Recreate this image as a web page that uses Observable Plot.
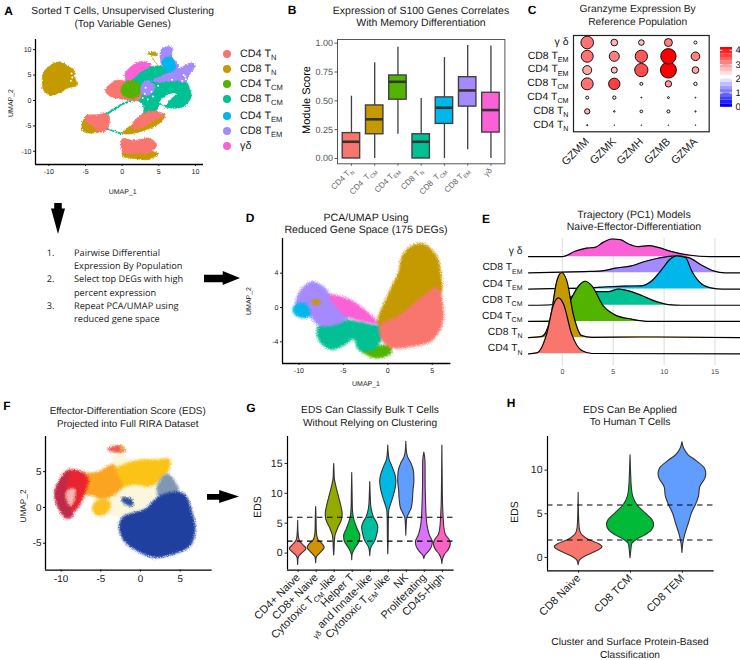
<!DOCTYPE html>
<html><head><meta charset="utf-8">
<script src="https://cdn.jsdelivr.net/npm/d3@7"></script>
<script src="https://cdn.jsdelivr.net/npm/@observablehq/plot@0.6"></script>
<style>
html,body{margin:0;padding:0;background:#fff}
#root{position:relative;width:740px;height:660px;overflow:hidden;font-family:"Liberation Sans",Arial,sans-serif;color:#1a1a1a;text-rendering:geometricPrecision}
#root svg text{text-rendering:geometricPrecision}
.t{position:absolute;white-space:nowrap;line-height:1}
.c{transform:translate(-50%,-50%)}
.r{transform:translate(-50%,-50%) rotate(-90deg)}
sub{font-size:70%;vertical-align:baseline;position:relative;top:.35em}
.arrow{position:absolute;background:#000}
</style></head><body>
<svg width="0" height="0" style="position:absolute"><defs>
<filter id="rough" x="-10%" y="-10%" width="120%" height="120%" color-interpolation-filters="sRGB">
<feTurbulence type="fractalNoise" baseFrequency="0.7" numOctaves="2" seed="4" result="n"/>
<feDisplacementMap in="SourceGraphic" in2="n" scale="3.2" xChannelSelector="R" yChannelSelector="G"/>
</filter>
<filter id="soft" x="-10%" y="-10%" width="120%" height="120%" color-interpolation-filters="sRGB">
<feGaussianBlur stdDeviation="1.1" result="b"/>
<feTurbulence type="fractalNoise" baseFrequency="0.8" numOctaves="2" seed="9" result="n"/>
<feDisplacementMap in="b" in2="n" scale="3.5" xChannelSelector="R" yChannelSelector="G"/>
</filter>
</defs></svg>
<div id="root"></div>
<script>
// ---------- palette
const hue7 = ["#F8766D","#C49A00","#53B400","#00C094","#00B6EB","#A58AFF","#FB61D7"];
const hue9 = ["#F8766D","#D39200","#93AA00","#00BA38","#00C19F","#00B9E3","#619CFF","#DB72FB","#FF61C3"];
const hue3 = ["#F8766D","#00BA38","#619CFF"];
const [cSalmon,cGold,cGreen,cTeal,cBlue,cPurple,cPink] = hue7;

// ---------- Panel A: UMAP outlines (UMAP units)
const aIsland=[[-10.9,3.9],[-10.7,5.6],[-9.8,6.9],[-8.6,7.6],[-7.5,6.9],[-6.6,5.9],[-6.4,4.3],[-6.1,3],[-7.3,2.5],[-8.4,1.6],[-9.8,1],[-10.7,2]];
const aLeftGold=[[-5.5,-5.3],[-4.9,-3],[-3.9,-3.9],[-2.5,-5.9],[-3.9,-6.4],[-5.2,-6.2]];
const aLeftSalmon=[[-4.9,-3],[-3.4,-2.8],[-2,-2.6],[-1.7,-3.6],[-2.1,-5.8],[-3.2,-6.2],[-4.1,-4.9],[-5,-4.1]];
const aRightGold=[[0,-6.4],[1.6,-4.6],[4.8,-2.6],[5.9,-2.8],[5,-4.6],[3,-5.9],[0.9,-6.6]];
const aRightSalmon=[[1.4,-4.6],[3,-2.5],[4.8,-2.1],[5.8,-3],[4.5,-3.8],[3,-5.1],[1.6,-5.6]];
const aBottomGold=[[0.1,-9.9],[3.6,-9.9],[4.9,-10.5],[3.6,-11.6],[1.6,-11.4],[0.1,-11]];
const aBottomSalmon=[[0,-7.6],[1.6,-7.9],[3.6,-7.4],[4.7,-8.7],[3.9,-10.2],[1.8,-10.4],[0.1,-10.2]];
const aBridge1=[[-2,-2.6],[0,-0.7],[3,0.7]];
const aBridge2=[[-2,-5.6],[0,-6.6]];
const aBridge3=[[3.9,8.9],[4.8,7],[5.5,5.8]];
const aTeal=[[0.5,4],[2.5,6],[4.8,6.8],[7.5,5.8],[8.9,3.4],[9.4,0.7],[8.2,-1.3],[6.1,-1.4],[5.2,-0.8],[4.7,-2],[4.5,-3],[3,-3],[2.9,-1],[1.5,0.5],[0.5,2]];
const aHole=[[5.2,-0.3],[6.1,1],[7.3,1.3],[6.4,0],[5.9,-1]];
const aSalmonMain=[[-2.3,2],[-0.9,3.9],[0.2,3.9],[2.4,2.4],[2.4,0.2],[-0.2,0.3],[-1.8,1]];
const aGreen=[[-0.1,2.6],[0.9,3.9],[2.3,3.3],[2.3,1],[0.9,0.5],[0,1.3]];
const aPurpleRight=[[4.1,3.9],[6.1,5.3],[8.2,6.6],[9.5,7.4],[10,6.9],[9.3,5.3],[8.6,3.6],[7.5,3.9],[5.2,3.6]];
const aPurpleTop=[[5.3,9.9],[5.9,10.5],[6.8,10.5],[6.8,8.6],[7.7,6.9],[7.3,5.6],[5.7,6.3],[5.2,8.2]];
const aBlue=[[5.5,7.9],[6.6,8.6],[7.3,6.6],[6.6,5.6],[5.7,6.3]];
const aPink=[[0.3,4.9],[1.4,6.9],[3.2,7.7],[3.9,6.9],[2.5,5.6],[0.9,3.9]];
const aPurpleSmall=[[2.7,3.3],[3.6,3.9],[4.5,2.6],[3.6,1],[2.7,1.3]];
const aGoldTiny=[[3.5,9.3],[4.5,9.5],[4.8,8.9],[3.9,8.9]];
const aSpecks=[[8.4,5],[8.7,4.2],[8.2,3.9],[8.6,4.7],[4,1.7],[3.2,2.5],[6.8,4.1],[3.5,0.2],[2.8,0.5],[-6.8,4.5],[-7,3.9],[-6.9,5.3],[3.1,1.3],[4.2,0.8],[1.2,-7.2],[4.9,2.9]];
const legendA=["CD4 T<sub>N</sub>","CD8 T<sub>N</sub>","CD4 T<sub>CM</sub>","CD8 T<sub>CM</sub>","CD4 T<sub>EM</sub>","CD8 T<sub>EM</sub>","γδ"];
const legendATop=[54.3,69.3,84.3,99.3,116,131,145.7];

// ---------- Panel B: boxplot summaries
const bLabels=["CD4 T~N~","CD4  T~CM~","CD4 T~EM~","CD8 T~N~","CD8  T~CM~","CD8 T~EM~","γδ"];
const bLow=[0,0,0.21,0,0,0.075,0];
const bQ1=[0,0.21,0.51,0,0.30,0.45,0.225];
const bMed=[0.145,0.34,0.665,0.145,0.44,0.59,0.42];
const bQ3=[0.22,0.46,0.72,0.21,0.53,0.705,0.57];
const bHigh=[0.54,0.83,0.965,0.52,0.875,0.98,0.975];

// ---------- Panel C: dot plot
const cGenes=["GZMM","GZMK","GZMH","GZMB","GZMA"];
const cRows=["CD4 T~N~","CD8 T~N~","CD4 T~CM~","CD8 T~CM~","CD4 T~EM~","CD8 T~EM~","γ δ"];
const cPct=[[8,4,4,4,4],[33,10,17,19,8],[19,21,6,12,6],[75,71,19,40,21],[56,38,83,100,42],[75,63,77,96,54],[79,42,35,50,19]];
const cExpr=[[2,2,2,2,2],[2.6,2,2,2.2,2],[2,2.2,2,2,2],[3.1,3.5,2.2,2.8,2.1],[2.7,2.5,3.4,4,2.7],[3.1,3,3.3,4,3],[3.1,2.6,2.5,3,2]];
const cBarStops=[0,0.25,0.5,0.75,1,1.25,1.5,1.75,2,2.25,2.5,2.75,3,3.25,3.5,3.75,4,4.2];
const cBarTicks=[0,1,2,3,4];

// ---------- Panel D outlines
const dGold=[[-1.2,-1.9],[0.1,1.7],[1.2,4.1],[1.6,6],[2.7,7.2],[4.1,7.4],[5.6,5.8],[6,3.7],[6,1.7],[4.5,0.6],[1.2,-1.4],[-0.7,-2.5]];
const dSalmon=[[-0.85,-2.1],[1.2,-1],[3.8,1.2],[5.6,2.3],[6.2,0.2],[6.1,-2.1],[4.9,-3.9],[3,-4.5],[0.4,-4.7],[-0.7,-3.7]];
const dGreen=[[-3.1,-4.9],[-1.4,-4.5],[0.3,-4.5],[0.3,-5.4],[-1.4,-5.9],[-2.7,-5.3]];
const dTeal=[[-7.9,-2.3],[-5.5,-1.4],[-2.1,-1.9],[-0.85,-2.3],[-0.7,-3.7],[-1.6,-4.9],[-3.3,-4.9],[-3.8,-3.7],[-5.1,-4.5],[-6.4,-4.9],[-7.7,-3.9]];
const dPurple=[[-9.9,1.9],[-8.6,3],[-7.3,2.5],[-6,1],[-4,-0.2],[-5.1,-1.7],[-7.7,-2.1],[-8.8,-1],[-10.3,0.2]];
const dBlue=[[-10.7,-0.2],[-10.3,0.4],[-9.2,0.4],[-8.8,-1],[-9.7,-1.2],[-10.5,-0.8]];
const dPink=[[-6.6,1.4],[-4.4,1],[-2.9,0],[-1.6,-1.2],[-1,-1.9],[-2.5,-1.7],[-4.7,-1],[-5.9,0.2]];
const dGoldSmall=[[-8.6,0.8],[-7.7,0.9],[-7.6,0.4],[-8.4,0.4]];

// ---------- Panel E ridges: [PC1, density height in row units]
const eRidges=[
 {row:6,label:"γ δ",color:cPink,pts:[[-3.34,0],[0,0],[1.25,.33],[2.4,.53],[3.2,.57],[4,.88],[4.85,1.09],[5.7,1.05],[6.5,.78],[7.5,.62],[8.5,.68],[9.4,.57],[10.75,.31],[12.4,.1],[14.4,0],[17.5,0]]},
 {row:5,label:"CD8 T~EM~",color:cPurple,pts:[[-3.34,0],[0,.04],[2.2,.08],[3.9,.12],[5.2,.29],[6.8,.43],[8.1,.7],[9.4,.9],[11.1,1.05],[12.4,.94],[13.7,.47],[14.85,.12],[16,0],[17.5,0]]},
 {row:4,label:"CD4 T~EM~",color:cBlue,pts:[[-3.34,0],[0,.04],[2.2,.06],[4.5,.14],[6.2,.18],[7.8,.2],[8.8,.51],[9.8,1.23],[10.6,1.85],[11.25,2.05],[12.1,1.95],[12.7,1.13],[13.7,.31],[14.7,.06],[15.7,0],[17.5,0]]},
 {row:3,label:"CD8 T~CM~",color:cTeal,pts:[[-3.34,0],[-2.4,0],[-.4,.06],[.75,.49],[1.9,.8],[3.2,.84],[4.5,.84],[5.5,1],[6.8,.84],[7.8,.6],[9.1,.25],[10.4,.04],[11.7,0],[17.5,0]]},
 {row:2,label:"CD4 T~CM~",color:cGreen,pts:[[-3.34,0],[-.4,.04],[.75,1.27],[1.6,2.2],[2.25,2.48],[2.9,2.2],[4,.97],[5.2,.39],[6.8,.14],[8.5,0],[17.5,0]]},
 {row:1,label:"CD8 T~N~",color:cGold,pts:[[-3.34,0],[-2,.08],[-1.2,1.15],[-.55,3.5],[-.07,4.02],[.43,3.5],[1.1,1.35],[1.9,.12],[2.9,.02],[7.8,.04],[17.5,0]]},
 {row:0,label:"CD4 T~N~",color:cSalmon,pts:[[-3.34,0],[-2.5,.06],[-1.55,1.23],[-.9,3],[-.4,3.45],[.1,3.08],[.9,1.23],[1.9,.2],[2.9,.02],[17.5,0]]}
];
const eTicks=[0,5,10,15];

// ---------- Panel F outlines
const fHalo=[[-6,0],[-4,5],[-2.9,7.9],[-1,6.5],[3.4,6.2],[3.2,4],[0.8,0.4],[-2.1,-1.2]];
const fBlueBig=[[.6,-.2],[2.1,1.4],[3.8,2.1],[5.5,1.9],[6.5,-.7],[6.9,-3],[6.3,-5.3],[4.2,-6.5],[1.7,-7],[0,-6.3],[-1.9,-4.9],[-2.7,-3],[-2.3,-1.4],[-.8,-.7]];
const fBlueUp=[[3.4,4.7],[4.8,2.1],[2.5,1.2],[2.1,3]];
const fBlueSmall=[[-2.3,1.4],[-1.1,1.1],[-1,.2],[-1.8,.4],[-2.3,.9]];
const fYellow=[[-4,4.6],[-.8,6.5],[2.1,6.7],[3.6,6.8],[3.8,6],[3.2,4.7],[1.3,3],[-.8,3.2],[-3,2.8]];
const fOrange=[[-7.6,4.6],[-5.5,4.9],[-3.4,6],[-2.9,4.6],[-2.3,3],[-3.6,1.6],[-5,1.2],[-5.9,1.6],[-7.6,2.1]];
const fYellowLow=[[-6.1,0],[-5,1.2],[-3.8,.7],[-4.2,-.7],[-5.5,-1.1]];
const fRed=[[-9.2,5.2],[-7.6,5.1],[-6.6,4],[-7,2.1],[-8,-.2],[-9.2,-.8],[-10.7,1.6],[-10.1,4]];
const fCrimson=[[-10.8,2.1],[-10.1,3.8],[-8.9,5],[-9.3,3.5],[-9.4,1.6],[-8.5,-1.2],[-9.4,-1.5],[-10.5,.2]];
const fPale=[[-9.3,2.3],[-8.3,2.6],[-8.3,1.2],[-8.8,.2],[-9.3,1]];
const fTopRed=[[-4.2,8.1],[-2.7,8.7],[-1.9,7.9],[-3.2,7.7]];
const fTopYellow=[[-2.5,8.7],[-2,8.1],[-2.5,7.9]];

// ---------- Panel G violins: [EDS, half width in category units]
const gLabels=["CD4+ Naive","CD8+ Naive","Cytotoxic T~CM~-like","Helper T","~γδ~ and Innate-like","Cytotoxic T~EM~-like","NK","Proliferating","CD45-High"];
const gViolins=[
 [[-2,0],[-1,.02],[-.5,.08],[0,.25],[.7,.46],[1.3,.3],[2,.1],[2.5,.05],[3.5,.02],[5.4,0]],
 [[-1.7,0],[-.8,.03],[-.2,.18],[.9,.47],[1.5,.35],[2.2,.13],[2.7,.07],[4,.03],[6,.02],[7.7,0]],
 [[-.4,0],[.5,.02],[2,.04],[3,.08],[4,.2],[5.5,.43],[6.5,.47],[7.5,.42],[9,.3],[11,.13],[12.5,.03],[13.5,.02],[14.9,0]],
 [[-1.2,0],[-.3,.02],[.2,.08],[.8,.18],[2,.42],[2.8,.45],[4,.3],[5.5,.12],[6.8,.05],[8,.03],[10,.02],[13.4,0]],
 [[-.5,0],[.5,.03],[1,.08],[2,.28],[3,.38],[4.3,.45],[5,.38],[6,.2],[7,.1],[8,.05],[10,.02],[11.9,0]],
 [[-.2,0],[2,.02],[5,.03],[7,.05],[8,.14],[9.5,.3],[11,.42],[12,.45],[13,.4],[14.5,.22],[15.5,.08],[16.5,.03],[18,0]],
 [[2.9,0],[4.5,.02],[5.8,.05],[6.5,.15],[7.5,.3],[9,.37],[10.5,.4],[12,.45],[13.5,.43],[15,.28],[16,.1],[17,.03],[18.6,0]],
 [[-1,0],[-.5,.05],[.2,.25],[1,.42],[1.8,.47],[3,.3],[4.5,.18],[6,.13],[8,.1],[10,.08],[12,.07],[14,.07],[15.5,.06],[16.8,0]],
 [[-1.8,0],[-1,.04],[-.3,.14],[.5,.35],[1.5,.47],[2.2,.4],[3,.2],[4,.12],[6,.07],[8,.04],[10,.025],[13,.015],[18,0]]
];
const edsCuts=[2,6];

// ---------- Panel H violins
const hLabels=["CD8 Naive","CD8 TCM","CD8 TEM"];
const hViolins=[
 [[-.9,0],[-.4,.02],[0,.1],[.5,.28],[1,.44],[1.2,.46],[1.5,.4],[2,.2],[2.5,.08],[3,.03],[4,.012],[7.4,0]],
 [[-.1,0],[.8,.015],[1.5,.03],[2,.12],[2.5,.28],[3,.4],[3.7,.455],[4.3,.42],[5,.3],[6,.13],[7,.05],[8,.025],[9.5,.012],[11.7,0]],
 [[.5,0],[1.5,.015],[2.5,.05],[4,.13],[5,.18],[6,.26],[7,.32],[8,.34],[9,.44],[9.5,.46],[10.2,.43],[11,.28],[11.7,.12],[12.5,.03],[13.2,0]]
];

// ---------- helpers
const root=document.getElementById("root");
const FONT='"Liberation Sans",Arial,sans-serif';
function subs(svg){
  svg.querySelectorAll("text").forEach(t=>{
    if(t.children.length||!t.textContent.includes("~"))return;
    const parts=t.textContent.split("~");t.textContent="";
    parts.forEach((p,i)=>{
      if(!p)return;
      const s=document.createElementNS("http://www.w3.org/2000/svg","tspan");
      s.textContent=p;
      if(i%2){s.setAttribute("font-size","68%");s.setAttribute("dy",".45em");}
      else if(i>0){s.setAttribute("dy","-.306em");}
      t.appendChild(s);
    });
  });
}
function panel({l,t,r,b,x,y,marks,pad=[20,20,50,50],font=8,extra={},filter}){
  const [pt,pr,pb,pl]=pad;
  const svg=Plot.plot({width:r-l+pl+pr,height:b-t+pt+pb,marginTop:pt,marginRight:pr,marginBottom:pb,marginLeft:pl,
    x:{axis:null,label:null,...x},y:{axis:null,label:null,...y},
    style:{background:"transparent",overflow:"visible",maxWidth:"none",fontFamily:FONT,fontSize:font+"px",position:"absolute",left:(l-pl)+"px",top:(t-pt)+"px"},
    marks,...extra});
  subs(svg);
  if(filter) svg.querySelectorAll('g[aria-label="line"]').forEach(g=>g.setAttribute("filter",`url(#${filter})`));
  root.appendChild(svg);
  return svg;
}
function txt(s,x,y,size,opts={}){
  const d=document.createElement("div");d.className="t "+(opts.cls||"c");
  d.style.left=x+"px";d.style.top=y+"px";d.style.fontSize=size+"px";
  if(opts.color)d.style.color=opts.color;
  if(opts.weight)d.style.fontWeight=opts.weight;
  if(opts.font)d.style.fontFamily=opts.font;
  d.innerHTML=s;root.appendChild(d);
}
const blob=(pts,color,opts={})=>Plot.line(pts,{x:d=>d[0],y:d=>d[1],fill:color,stroke:color,strokeWidth:.6,curve:"catmull-rom-closed",...opts});
const path=(pts,color,w=1.6)=>Plot.line(pts,{x:d=>d[0],y:d=>d[1],stroke:color,strokeWidth:w});
const umapAxes=(xt,yt,fs,dom,col="#222")=>[
  Plot.axisX({ticks:xt,tickFormat:String,tickSize:2,tickPadding:2.5,fontSize:fs,color:col}),
  Plot.axisY({ticks:yt,tickFormat:String,tickSize:2,tickPadding:2,fontSize:fs,color:col}),
  Plot.ruleX([dom[0]],{stroke:"#000",strokeWidth:1.3}),
  Plot.ruleY([dom[1]],{stroke:"#000",strokeWidth:1.3})
];

// ---------- A
const axA=[-11.82,11.1], ayA=[-12.6,12.0];
panel({l:35,t:39,r:203,b:164,x:{domain:axA},y:{domain:ayA},filter:"rough",marks:[
  blob(aIsland,cGold),blob(aLeftGold,cGold),blob(aLeftSalmon,cSalmon),blob(aRightGold,cGold),
  blob(aBottomGold,cGold),blob(aBottomSalmon,cSalmon),
  path(aBridge1,cTeal,2),path(aBridge2,cTeal,1.6),path(aBridge3,cGold,.8),
  blob(aTeal,cTeal),blob(aRightSalmon,cSalmon),blob(aHole,"#fff"),blob(aSalmonMain,cSalmon),blob(aGreen,cGreen),
  blob(aPurpleRight,cPurple),blob(aPurpleTop,cPurple),blob(aBlue,cBlue),blob(aPink,cPink),blob(aPurpleSmall,cPurple),blob(aGoldTiny,cGold),
  Plot.dot(aSpecks,{x:d=>d[0],y:d=>d[1],r:1,fill:"#fff"}),
  ...umapAxes([-10,-5,0,5,10],[-10,-5,0,5,10],7,[axA[0],ayA[0]])
]});
txt("Sorted T Cells, Unsupervised Clustering",122.7,12.3,10.3);
txt("(Top Variable Genes)",122.7,24.5,10.3);
txt("UMAP_1",122.7,191.7,7);
txt("UMAP_2",11,103,7,{cls:"r"});
legendA.forEach((s,i)=>{
  const d=document.createElement("div");d.style.cssText=`position:absolute;left:222.7px;top:${legendATop[i]-4}px;width:8px;height:8px;border-radius:50%;background:${hue7[i]}`;root.appendChild(d);
  txt(s,240,legendATop[i],10.8,{cls:"",color:"#1a1a1a"});
  root.lastChild.style.transform="translateY(-50%)";
});

// ---------- B
const idx7=d3.range(7);
panel({l:337.3,t:39,r:504.7,b:163.3,x:{domain:[-0.6,6.6]},y:{domain:[-0.046,1.032]},marks:[
  Plot.ruleX(idx7,{x:i=>i,y1:i=>bLow[i],y2:i=>bHigh[i],stroke:"#3f3f3f",strokeWidth:1.3}),
  Plot.rect(idx7,{x1:i=>i-.375,x2:i=>i+.375,y1:i=>bQ1[i],y2:i=>bQ3[i],fill:i=>hue7[i],stroke:"#404040",strokeWidth:1.4}),
  Plot.ruleY(idx7,{y:i=>bMed[i],x1:i=>i-.375,x2:i=>i+.375,stroke:"#333",strokeWidth:2.6}),
  Plot.frame({stroke:"#555",strokeWidth:1}),
  Plot.axisY({ticks:[0,.25,.5,.75,1],tickFormat:d3.format(".2f"),tickSize:2.5,tickPadding:2,fontSize:9,color:"#555"}),
  Plot.axisX({ticks:idx7,tickFormat:i=>bLabels[i],tickSize:2.5,tickPadding:3,tickRotate:-45,fontSize:8,color:"#666"})
]});
txt("Expression of S100 Genes Correlates",421,10.5,10.5);
txt("With Memory Differentiation",421,22.5,10.5);
txt("Module Score",306.7,100,11,{cls:"r",color:"#000"});

// ---------- C
const cCells=cRows.flatMap((_,r)=>cGenes.map((_,g)=>({r,g,p:cPct[r][g],e:cExpr[r][g]})));
const cColor={type:"linear",domain:[0,2,4],range:["#0000ff","#ffffff","#ff0000"]};
panel({l:573.3,t:35,r:709,b:131.3,x:{domain:[-.507,4.507]},y:{domain:[-.48,6.51]},
  extra:{color:cColor,r:{type:"linear",domain:[0,100],range:[0,8]}},
  marks:[
  Plot.dot(cCells,{x:"g",y:"r",r:"p",fill:"e",stroke:"#000",strokeWidth:.9}),
  Plot.frame({stroke:"#222",strokeWidth:1.2}),
  Plot.axisY({ticks:d3.range(7),tickFormat:i=>cRows[i],tickSize:0,tickPadding:5,fontSize:10.5,color:"#111",dy:-1}),
  Plot.axisX({ticks:d3.range(5),tickFormat:i=>cGenes[i],tickSize:0,tickPadding:8,tickRotate:-45,fontSize:11,color:"#222"})
]});
txt("Granzyme Expression By",637.7,10.3,10.3);
txt("Reference Population",637.7,23.3,10.3);
const cBar=d3.pairs(cBarStops);
panel({l:720,t:47,r:732,b:109,pad:[5,20,5,5],x:{domain:[0,1]},y:{domain:[-.15,4.2]},extra:{color:{...cColor,clamp:true}},marks:[
  Plot.rect(cBar,{x1:0,x2:1,y1:d=>d[0],y2:d=>d[1],fill:d=>d[0]}),
  Plot.ruleY(cBarTicks,{x1:0,x2:.2,stroke:"#fff",strokeWidth:.8}),
  Plot.ruleY(cBarTicks,{x1:.8,x2:1,stroke:"#fff",strokeWidth:.8}),
  Plot.axisY({anchor:"right",ticks:cBarTicks,tickFormat:String,tickSize:0,tickPadding:3,fontSize:9.5,color:"#111"})
]});

// ---------- Steps + arrows
const arrow=(x,y,w,h,poly)=>{const d=document.createElement("div");d.className="arrow";d.style.cssText=`left:${x}px;top:${y}px;width:${w}px;height:${h}px;clip-path:polygon(${poly})`;root.appendChild(d);};
arrow(51,203,14,31,"23% 0,77% 0,77% 18%,100% 18%,50% 100%,0 18%,23% 18%");
arrow(204,271,36,14,"0 27%,52% 27%,52% 0,100% 50%,52% 100%,52% 80%,0 80%");
arrow(207,490,32,13,"0 30%,38% 30%,38% 0,100% 50%,38% 100%,38% 75%,0 75%");
const stepFont='"Open Sans",sans-serif';
[["1.","Pairwise Differential",253],["","Expression By Population",266.3],["2.","Select top DEGs with high",279.3],["","percent expression",292.7],["3.","Repeat PCA/UMAP using",305.7],["","reduced gene space",319]].forEach(([n,s,y])=>{
  if(n){txt(n,46.7,y,9.2,{cls:"",font:stepFont});root.lastChild.style.transform="translateY(-50%)";}
  txt(s,74,y,9.2,{cls:"",font:stepFont});root.lastChild.style.transform="translateY(-50%)";
});

// ---------- D
const axD=[-11.85,7.1], ayD=[-6.5,8.6];
panel({l:282.3,t:237.7,r:450.7,b:362.7,x:{domain:axD},y:{domain:[(305-473)/25.75,(305-98)/25.75]},filter:"soft",marks:[
  blob(dGold,cGold),blob(dGreen,cGreen),blob(dTeal,cTeal),blob(dSalmon,cSalmon),blob(dPurple,cPurple),blob(dBlue,cBlue),blob(dPink,cPink),blob(dGoldSmall,cGold),
  ...umapAxes([-10,-5,0,5],[-4,0,4],7,[axD[0],(305-473)/25.75])
]});
txt("PCA/UMAP Using",366,217.7,10.6);
txt("Reduced Gene Space (175 DEGs)",366,230,10.6);
txt("UMAP_1",366,384,7);
txt("UMAP_2",249,301,7,{cls:"r"});

// ---------- E
panel({l:528.3,t:238,r:740,b:365,x:{domain:[-3.34,17.48]},y:{domain:[-.72,7.12]},marks:[
  Plot.ruleX(eTicks,{stroke:"#e4e4e4",strokeWidth:1.3}),
  ...eRidges.flatMap(s=>[
    Plot.areaY(s.pts,{x:d=>d[0],y1:()=>s.row,y2:d=>s.row+d[1],fill:s.color,curve:"monotone-x"}),
    Plot.line(s.pts,{x:d=>d[0],y:d=>s.row+d[1],stroke:"#000",strokeWidth:1.2,curve:"monotone-x"})
  ]),
  Plot.text(eRidges,{x:-3.34,y:d=>d.row+.35,text:"label",textAnchor:"end",dx:-6,fontSize:10.3,fill:"#1a1a1a"}),
  Plot.axisX({ticks:eTicks,tickFormat:String,tickSize:0,tickPadding:4,fontSize:7,color:"#444"})
]});
txt("Trajectory (PC1) Models",634,215,10.5);
txt("Naive-Effector-Differentiation",634,227,10.5);

// ---------- F
const axF=[(135-420)/23.8,(635-420)/23.8], ayF=[(335-523)/21.5,(335-122)/21.5];
panel({l:45,t:435.7,r:211.7,b:569.3,x:{domain:axF},y:{domain:ayF},filter:"soft",marks:[
  blob(fHalo,"#fbf6dc"),blob(fYellow,"#fbc316"),blob(fBlueUp,"#7e97b5"),blob(fBlueBig,"#20409f"),blob(fBlueSmall,"#2a4fa0"),
  blob(fOrange,"#fba41f"),blob(fYellowLow,"#fcc021"),blob(fRed,"#e8252f"),blob(fCrimson,"#c02a4a"),blob(fPale,"#f6b5ad"),blob(fTopRed,"#ef5a50"),blob(fTopYellow,"#e9b532"),
  ...umapAxes([-10,-5,0,5],[-5,0,5],9.8,[axF[0],ayF[0]],"#111")
]});
txt("Effector-Differentiation Score (EDS)",127.7,412,9.9);
txt("Projected into Full RIRA Dataset",127.7,425,9.9);
txt("UMAP_2",22.7,506,8.3,{cls:"r"});

// ---------- violin marks
const violin=(pts,i,color)=>Plot.areaX(pts,{y:d=>d[0],x1:d=>i-d[1],x2:d=>i+d[1],fill:color,stroke:"#333",strokeWidth:1.1,curve:"monotone-y"});
const violinFrame=(dom,ticks,labels,fs)=>[
  Plot.ruleY(edsCuts,{stroke:"#000",strokeWidth:1.1,strokeDasharray:"5.5,4.5"}),
  Plot.ruleX([dom[0]],{stroke:"#000",strokeWidth:1.2}),
  Plot.ruleY([dom[1]],{stroke:"#000",strokeWidth:1.2}),
  Plot.axisY({ticks,tickFormat:String,tickSize:2.5,tickPadding:2.5,fontSize:10.5,color:"#222"}),
  Plot.axisX({ticks:labels.map((_,i)=>i),tickFormat:i=>labels[i],tickSize:2.5,tickPadding:3,tickRotate:-45,fontSize:fs,color:"#222"})
];

// ---------- G
const gx=[-.59,8.65], gy=[-2.84,19.5];
panel({l:286.7,t:435.7,r:453.3,b:569.3,pad:[20,20,90,50],x:{domain:gx},y:{domain:gy},marks:[
  ...gViolins.map((v,i)=>violin(v,i,hue9[i])),
  ...violinFrame([gx[0],gy[0]],[0,5,10,15],gLabels,11)
]});
txt("EDS Can Classify Bulk T Cells",370,411,10.2);
txt("Without Relying on Clustering",370,424,10.2);
txt("EDS",258,507,10.5,{cls:"r"});

// ---------- H
const hx=[-.6,2.61], hy=[-1.53,13.85];
panel({l:546.7,t:435.7,r:713.3,b:570,x:{domain:hx},y:{domain:hy},pad:[20,20,70,50],marks:[
  ...hViolins.map((v,i)=>violin(v,i,hue3[i])),
  ...violinFrame([hx[0],hy[0]],[0,5,10],hLabels,11)
]});
txt("EDS Can Be Applied",630,411,10.2);
txt("To Human T Cells",630,423,10.2);
txt("EDS",515,512,10.5,{cls:"r"});
txt("Cluster and Surface Protein-Based",630,643,10.2);
txt("Classification",630,656,10.2);

// ---------- panel letters
[["A",8.5,11],["B",292,10],["C",532,10],["D",250,218],["E",486,219],["F",7,406],["G",251,408],["H",511,403]].forEach(([s,x,y])=>txt(s,x,y,12,{weight:"bold",color:"#000"}));
</script>
</body></html>
